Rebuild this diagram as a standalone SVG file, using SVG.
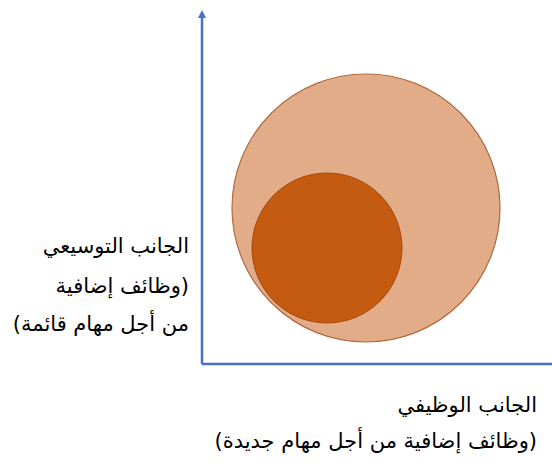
<svg xmlns="http://www.w3.org/2000/svg" width="552" height="464" viewBox="0 0 552 464">
<style>
.lbl{font-family:"DejaVu Sans",sans-serif;font-size:21px;fill:#000;direction:rtl;unicode-bidi:embed}
.axis{stroke:#4472C4;stroke-width:2.5;fill:none}
</style>
<defs>
<marker id="arr" markerWidth="8" markerHeight="8" refX="4" refY="4" orient="auto" markerUnits="userSpaceOnUse" viewBox="0 0 8 8">
<path d="M0,0 L8,4 L0,8 z" fill="#4472C4"/>
</marker>
</defs>
<rect width="552" height="464" fill="#fff"/>
<g id="connectors">
<line class="axis" x1="202" y1="364" x2="202" y2="14" marker-end="url(#arr)"/>
<line class="axis" x1="202" y1="364" x2="556" y2="364"/>
</g>
<g id="big-circle">
<circle cx="366" cy="208" r="134" fill="#E2AC88" stroke="#B06A40" stroke-width="1.2"/>
</g>
<g id="small-circle">
<circle cx="327" cy="248" r="75" fill="#C55A11" stroke="#A34A0E" stroke-width="1"/>
</g>
<g id="y-label">
<text class="lbl" x="189" y="253">الجانب التوسيعي</text>
<text class="lbl" x="189" y="293">(وظائف إضافية</text>
<text class="lbl" x="189" y="331">من أجل مهام قائمة)</text>
</g>
<g id="x-label">
<text class="lbl" x="537" y="412">الجانب الوظيفي</text>
<text class="lbl" x="537" y="448">(وظائف إضافية من أجل مهام جديدة)</text>
</g>
</svg>
